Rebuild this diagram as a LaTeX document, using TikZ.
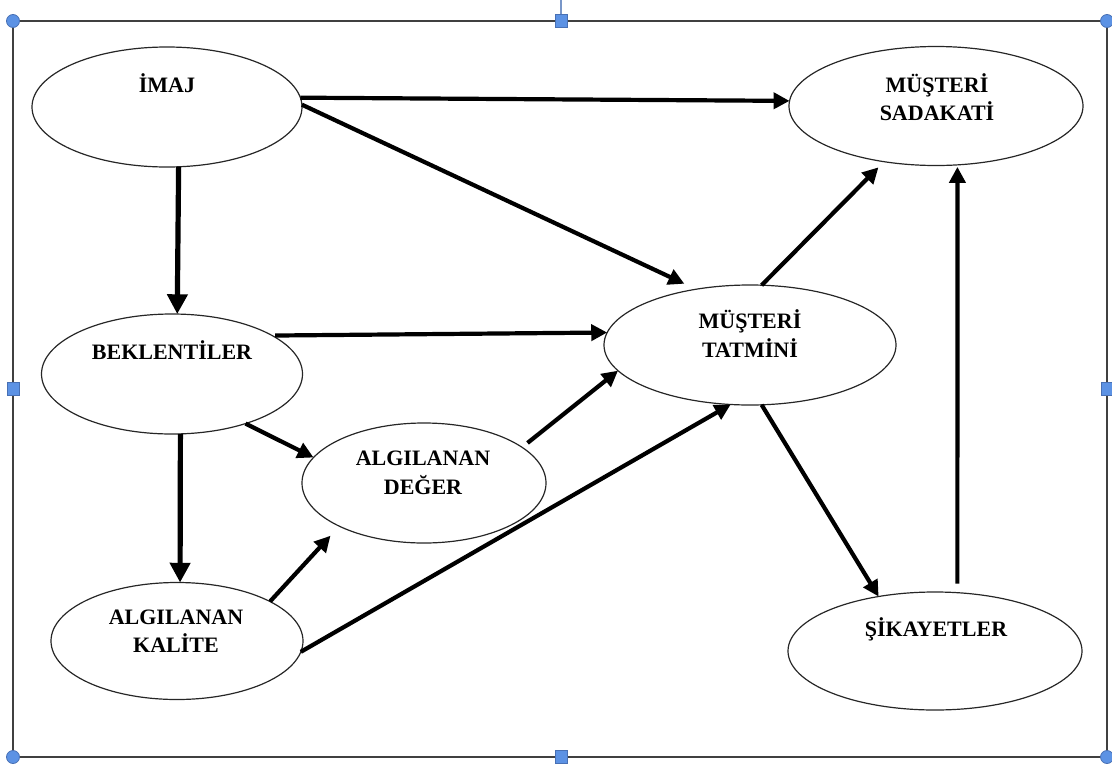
\documentclass[tikz,border=0pt]{standalone}
\usepackage{fontspec}
\setmainfont{Liberation Serif}
\usetikzlibrary{shapes.geometric,arrows.meta}
\definecolor{handleblue}{RGB}{92,146,228}
\definecolor{handleedge}{RGB}{72,112,180}
\definecolor{stemblue}{RGB}{120,150,200}
\definecolor{framegray}{RGB}{64,64,64}
\begin{document}
\begin{tikzpicture}[x=1pt,y=-1pt,
  oval/.style={ellipse, draw=black!85, line width=1.2pt, inner sep=0pt, outer sep=0pt},
  lbl/.style={anchor=base, inner sep=0pt, font=\fontsize{22}{29}\selectfont\bfseries},
  link/.style={line width=4.2pt, -{Triangle[length=0pt 3.8, width=0pt 3.8]}},
  heavy/.style={link, line width=5.2pt},
  handle/.style={fill=handleblue, draw=handleedge, line width=0.8pt},
]
\useasboundingbox (0,0) rectangle (1112,764);

% text box frame with its selection handles
\draw[stemblue, line width=1.5pt] (561,0) -- (561,14);
\draw[framegray, line width=2pt] (13,21) rectangle (1107,757);
\foreach \p in {(13,21),(1107,21),(13,757),(1107,757)}
  \filldraw[handle] \p circle (6.5);
\foreach \p in {(561,21),(561,757),(13,389),(1107,389)}
  \filldraw[handle] \p ++(-6,-6.5) rectangle ++(12,13);

% constructs
\node[oval, minimum width=270pt, minimum height=120pt] (imaj) at (167,107) {};
\node[oval, minimum width=294pt, minimum height=119pt] (sad) at (936,106) {};
\node[oval, minimum width=261pt, minimum height=120pt] (bek) at (172,374) {};
\node[oval, minimum width=292pt, minimum height=120pt] (tat) at (750,345) {};
\node[oval, minimum width=244pt, minimum height=120pt] (deg) at (424,483) {};
\node[oval, minimum width=252pt, minimum height=117pt] (kal) at (177,641) {};
\node[oval, minimum width=294pt, minimum height=118pt] (sik) at (935,651) {};

% labels
\node[lbl] (imajT) at (167,92) {İMAJ};
\node[lbl] (sadT1) at (937,92) {MÜŞTERİ};
\node[lbl] (sadT2) at (937,120) {SADAKATİ};
\node[lbl] (bekT) at (172,359) {BEKLENTİLER};
\node[lbl] (tatT1) at (750,328) {MÜŞTERİ};
\node[lbl] (tatT2) at (750,357) {TATMİNİ};
\node[lbl] (degT1) at (423,465) {ALGILANAN};
\node[lbl] (degT2) at (423,494) {DEĞER};
\node[lbl] (kalT1) at (176,624) {ALGILANAN};
\node[lbl] (kalT2) at (176,652) {KALİTE};
\node[lbl] (sikT) at (936,636) {ŞİKAYETLER};

% relations
\draw[link] (imaj.4) -- (sad.178);
\draw[link, shorten >=13pt] (imaj.1) -- (tat.134);
\draw[heavy] (imaj.281) -- (bek.85);
\draw[link, shorten <=3pt] (bek.21) -- (tat.175);
\draw[link] (bek.326) -- (deg.167);
\draw[heavy] (bek.278) -- (kal.87);
\draw[link, shorten >=13pt] (kal.23) -- (deg.207);
\draw[link] (kal.355) -- (tat.252);
\draw[link, shorten <=7pt] (deg.20) -- (tat.191);
\draw[link, shorten >=8pt] (tat.79) -- (sad.227);
\draw[link] (tat.281) -- (sik.136);
\draw[link, shorten <=9pt, shorten >=2pt] (sik.69) -- (sad.290);
\end{tikzpicture}
\end{document}
